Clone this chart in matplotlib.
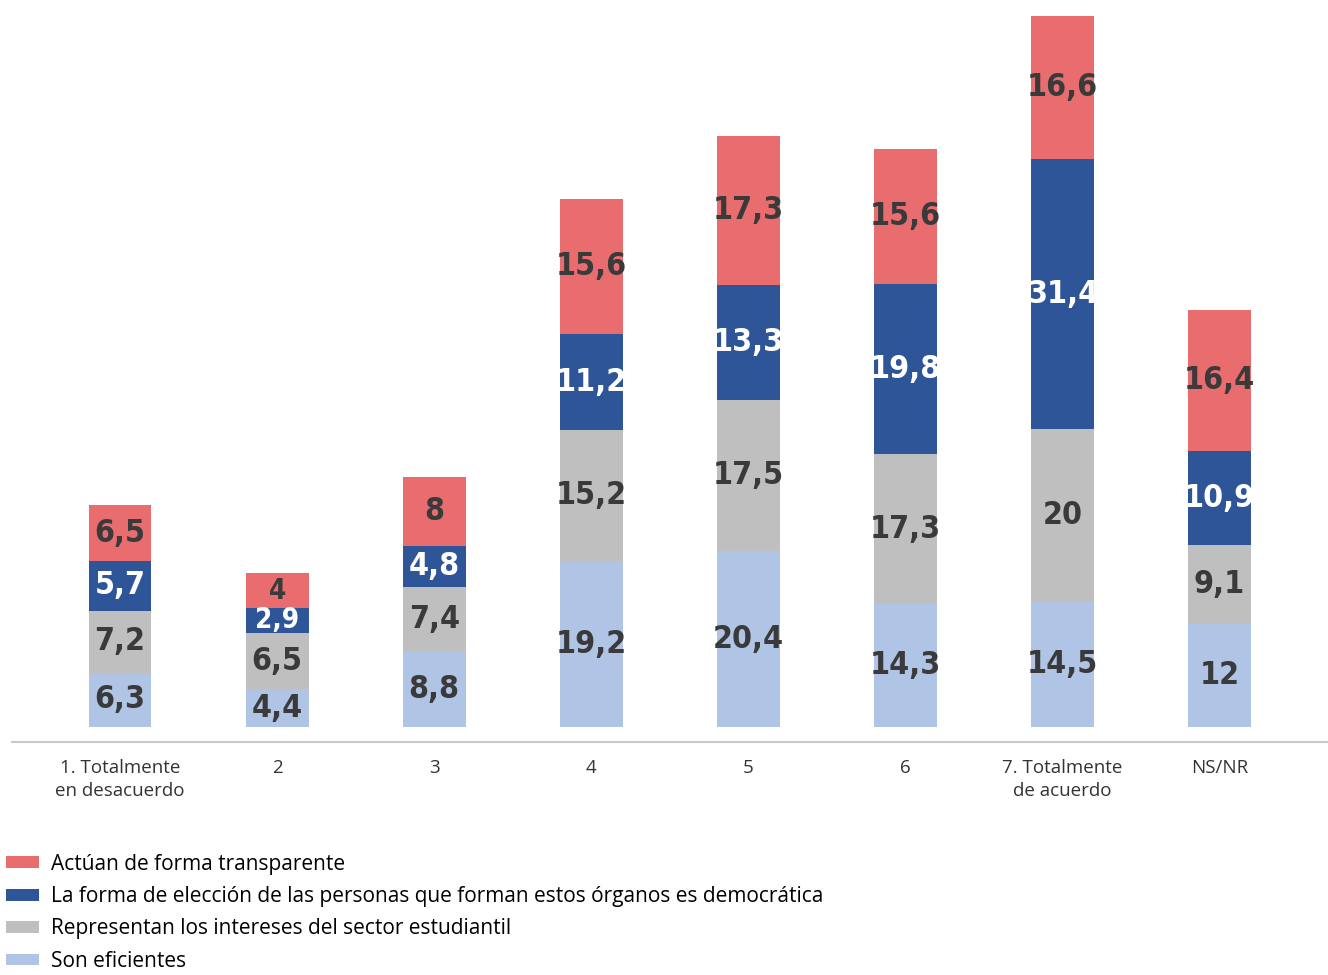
import numpy as np
import matplotlib.pyplot as plt

categories = ["1. Totalmente\nen desacuerdo", "2", "3", "4", "5", "6",
              "7. Totalmente\nde acuerdo", "NS/NR"]

eficientes = [6.3, 4.4, 8.8, 19.2, 20.4, 14.3, 14.5, 12]
representan = [7.2, 6.5, 7.4, 15.2, 17.5, 17.3, 20, 9.1]
eleccion = [5.7, 2.9, 4.8, 11.2, 13.3, 19.8, 31.4, 10.9]
transparente = [6.5, 4, 8, 15.6, 17.3, 15.6, 16.6, 16.4]

series = [
    ("Son eficientes", eficientes, "#B0C4E5", "#3A3A3A"),
    ("Representan los intereses del sector estudiantil", representan, "#BFBFBF", "#3A3A3A"),
    ("La forma de elección de las personas que forman estos órganos es democrática", eleccion, "#2D5597", "white"),
    ("Actúan de forma transparente", transparente, "#E96C6F", "#3A3A3A"),
]

def fmt(v):
    if float(v).is_integer():
        return str(int(v))
    return ("%.1f" % v).replace(".", ",")

fig = plt.figure(figsize=(13.28, 9.75), dpi=100)
ax = fig.add_axes([12 / 1328, (975 - 742) / 975, 1 - 12 / 1328, 742 / 975])

x = np.arange(len(categories))
bottom = np.zeros(len(categories))
handles = []
for name, vals, color, tcolor in series:
    vals = np.array(vals, dtype=float)
    bars = ax.bar(x, vals, width=0.4, bottom=bottom, color=color, label=name)
    handles.append(bars)
    for xi, b, v in zip(x, bottom, vals):
        # the two thin segments of bar 2 get a smaller label so they don't collide
        fs = 23 if v > 4.2 else 20
        ax.text(xi, b + v / 2, fmt(v), ha="center", va="center",
                fontsize=fs, fontweight="bold", fontstretch="condensed",
                color=tcolor, family="DejaVu Sans")
    bottom += vals

ax.set_xlim(-0.688, 7.69)
ax.set_ylim(-1.74, 84.3)
ax.set_xticks(x)
ax.set_xticklabels(categories, fontsize=13.5, family="Open Sans", color="#333333",
                   linespacing=1.35)
ax.tick_params(axis="x", length=0, pad=12)
ax.set_yticks([])
for s in ["top", "right", "left"]:
    ax.spines[s].set_visible(False)
ax.spines["bottom"].set_color("#C8C8C8")
ax.spines["bottom"].set_linewidth(1.5)

fig.legend(handles[::-1], [s[0] for s in series][::-1], loc="upper left",
           bbox_to_anchor=(0.0, 0.131), frameon=False,
           prop={"family": "Open Sans", "size": 15},
           handlelength=1.55, handleheight=0.5, handletextpad=0.6,
           labelspacing=0.55, borderaxespad=0, borderpad=0.3)

plt.savefig("out.png", dpi=100)
